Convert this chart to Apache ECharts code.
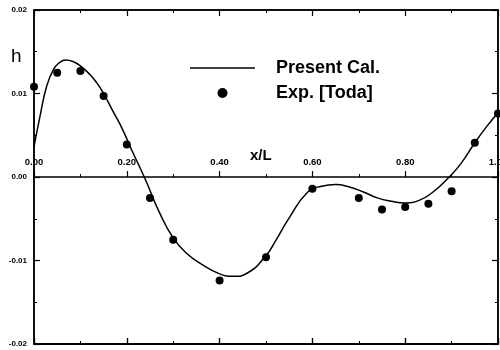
<!DOCTYPE html>
<html>
<head>
<meta charset="UTF-8">
<title>h vs x/L</title>
<script src="https://cdn.jsdelivr.net/npm/echarts@6/dist/echarts.min.js"></script>
<style>body{margin:0;background:#fff}</style>
</head>
<body>
<div id="main" style="width:500px;height:350px;"></div>
<script>
// computed curve (Present Cal.)
var curveX = [0, 0.013, 0.027, 0.042, 0.055, 0.068, 0.085, 0.10, 0.12, 0.135, 0.15, 0.17, 0.19, 0.21, 0.24, 0.27, 0.30, 0.33, 0.36, 0.40, 0.43, 0.46, 0.50, 0.52, 0.55, 0.59, 0.62, 0.65, 0.68, 0.71, 0.74, 0.77, 0.80, 0.83, 0.86, 0.895, 0.92, 0.95, 0.975, 1.0];
var curveY = [0.0036, 0.0073, 0.0108, 0.0129, 0.0137, 0.0140, 0.0138, 0.0133, 0.0123, 0.0113, 0.0100, 0.0079, 0.0058, 0.0033, -0.0003, -0.0042, -0.0073, -0.0092, -0.0104, -0.0116, -0.0119, -0.0115, -0.0094, -0.0077, -0.0049, -0.0018, -0.0011, -0.0009, -0.0012, -0.0018, -0.0025, -0.0029, -0.0031, -0.0028, -0.0018, 0.0000, 0.0016, 0.0041, 0.0060, 0.0077];
// experiment points (Exp. [Toda])
var expX = [0, 0.05, 0.10, 0.15, 0.20, 0.25, 0.30, 0.40, 0.50, 0.60, 0.70, 0.75, 0.80, 0.85, 0.90, 0.95, 1.0];
var expY = [0.0108, 0.0125, 0.0127, 0.0097, 0.0039, -0.0025, -0.0075, -0.0124, -0.0096, -0.0014, -0.0025, -0.0039, -0.0036, -0.0032, -0.0017, 0.0041, 0.0076];

var xMin = 0, xMax = 1, xStep = 0.2;
var yMin = -0.02, yMax = 0.02, yStep = 0.01;

function zip(a, b) {
  var out = [];
  for (var i = 0; i < a.length; i++) out.push([a[i], b[i]]);
  return out;
}

var ink = '#000';
var tickFont = { fontWeight: 'bold', color: ink, fontFamily: 'Liberation Sans' };

function xAx(grid, pos, labels) {
  return {
    type: 'value', gridIndex: grid, position: pos,
    min: xMin, max: xMax, interval: xStep,
    axisLine: { show: true, onZero: false, lineStyle: { color: ink, width: 1.5 } },
    axisTick: { show: true, inside: true, length: 6, lineStyle: { color: ink, width: 1.2 } },
    minorTick: { show: true, splitNumber: 2, length: 3, lineStyle: { color: ink } },
    axisLabel: labels ? Object.assign({ inside: true, margin: 10, fontSize: 9.5, formatter: function (v) { return v.toFixed(2); } }, tickFont) : { show: false },
    splitLine: { show: false }
  };
}

function yAx(grid, pos, labels, hide) {
  return {
    type: 'value', gridIndex: grid, position: pos, show: !hide,
    min: yMin, max: yMax, interval: yStep,
    axisLine: { show: true, onZero: false, lineStyle: { color: ink, width: 1.5 } },
    axisTick: { show: true, inside: true, length: 6, lineStyle: { color: ink, width: 1.2 } },
    minorTick: { show: true, splitNumber: 2, length: 3, lineStyle: { color: ink } },
    axisLabel: labels ? Object.assign({ margin: 7, fontSize: 8, formatter: function (v) { return v.toFixed(2); } }, tickFont) : { show: false },
    splitLine: { show: false }
  };
}

var chart = echarts.init(document.getElementById('main'));
chart.setOption({
  animation: false,
  backgroundColor: '#fff',
  grid: [
    { left: 34, right: 2, top: 10, bottom: 6, show: true, borderColor: ink, borderWidth: 1.5, outerBoundsMode: 'none' },
    { left: 34, right: 2, top: 10, bottom: 6, outerBoundsMode: 'none' },
    // upper half: its bottom edge is the h = 0 line
    { left: 34, right: 2, top: 10, height: 167, outerBoundsMode: 'none' }
  ],
  xAxis: [xAx(0, 'bottom', false), xAx(0, 'top', false), xAx(1, 'bottom', false), xAx(2, 'bottom', true)],
  yAxis: [yAx(0, 'left', true, false), yAx(0, 'right', false, false), yAx(1, 'left', false, true),
    { type: 'value', gridIndex: 2, show: false, min: 0, max: yMax }],
  legend: {
    orient: 'vertical', left: 185, top: 53,
    itemWidth: 65, itemHeight: 10, itemGap: 5,
    textStyle: { fontSize: 18, fontWeight: 'bold', color: ink, fontFamily: 'Liberation Sans', lineHeight: 20, padding: [0, 0, 0, 16] },
    data: [
      { name: 'Present Cal.', icon: 'path://M0,0 L65,0 L65,1.5 L0,1.5 Z', itemStyle: { color: ink } },
      { name: 'Exp. [Toda]', icon: 'circle', itemStyle: { color: ink } }
    ]
  },
  graphic: [
    { type: 'text', left: 11, top: 47, style: { text: 'h', fontSize: 19, fontFamily: 'Liberation Sans', fill: ink } },
    { type: 'text', left: 250, top: 148, style: { text: 'x/L', fontSize: 15, fontWeight: 'bold', fontFamily: 'Liberation Sans', fill: ink } }
  ],
  series: [
    {
      name: 'Present Cal.', type: 'line', xAxisIndex: 0, yAxisIndex: 0,
      data: zip(curveX, curveY), smooth: true, symbol: 'none',
      lineStyle: { color: ink, width: 1.5 }, itemStyle: { color: ink }
    },
    {
      name: 'Exp. [Toda]', type: 'scatter', xAxisIndex: 0, yAxisIndex: 0,
      data: zip(expX, expY), symbol: 'circle', symbolSize: 8,
      itemStyle: { color: ink, opacity: 1 }
    }
  ]
});
</script>
</body>
</html>
